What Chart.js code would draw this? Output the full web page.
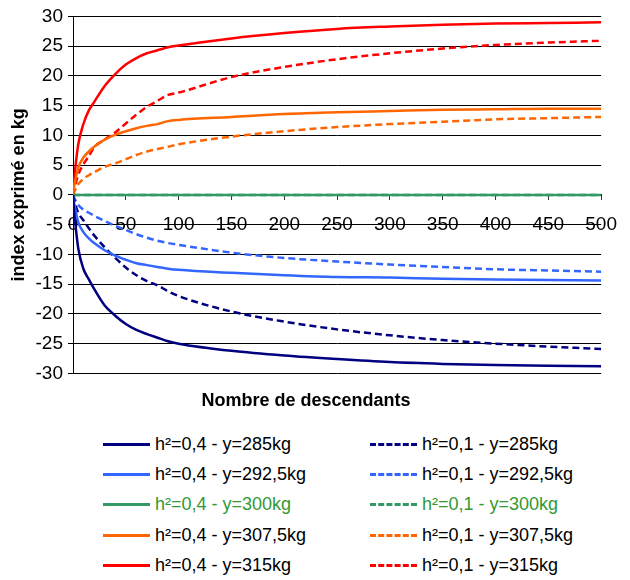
<!DOCTYPE html>
<html>
<head>
<meta charset="utf-8">
<script src="https://cdn.jsdelivr.net/npm/chart.js@4"></script>
<style>
  body { margin: 0; background: #fff; font-family: "Liberation Sans", Arial, sans-serif; }
  #wrap { position: relative; width: 630px; height: 580px; }
  #graf { position: absolute; left: 0; top: 0; }
  #leyenda { position: absolute; left: 103px; top: 429px; display: grid;
    grid-template-columns: 267px 240px; grid-template-rows: repeat(5, 30.3px);
    grid-auto-flow: column; font-size: 18px; color: #000; }
  .item { display: flex; align-items: center; white-space: nowrap; }
  .muestra { width: 47px; height: 0; margin-right: 5px; }
</style>
</head>
<body>
<div id="wrap">
  <canvas id="graf" width="630" height="420"></canvas>
  <div id="leyenda"></div>
</div>
<script>
// nombre de descendants
var descendants = [0, 1, 2, 5, 10, 15, 20, 30, 40, 50, 60, 70, 80, 90, 100, 150, 200, 250, 300, 350, 400, 450, 500];

// h2 = 0,4
var h04_285 = [0, -2.5, -4.5, -9, -12.5, -14.2, -15.8, -18.6, -20.3, -21.7, -22.7, -23.4, -24, -24.6, -25, -26.2, -27.0, -27.6, -28.1, -28.4, -28.6, -28.7, -28.8];
var h04_2925 = [0, -1.3, -2.3, -4.6, -6.3, -7.3, -8.1, -9.3, -10.2, -10.9, -11.5, -11.8, -12.1, -12.4, -12.6, -13.1, -13.5, -13.8, -13.9, -14.1, -14.2, -14.3, -14.4];
var h04_300 = [0, 0, 0, 0, 0, 0, 0, 0, 0, 0, 0, 0, 0, 0, 0, 0, 0, 0, 0, 0, 0, 0, 0];
var h04_3075 = [0, 1.3, 2.3, 4.6, 6.3, 7.3, 8.1, 9.3, 10.1, 10.7, 11.2, 11.6, 11.9, 12.4, 12.6, 13.1, 13.6, 13.9, 14.1, 14.3, 14.4, 14.5, 14.5];
var h04_315 = [0, 2.3, 4.2, 8.5, 12, 14.2, 15.6, 18.3, 20.3, 21.9, 23, 23.8, 24.3, 24.8, 25.1, 26.3, 27.2, 27.9, 28.3, 28.6, 28.8, 28.9, 29.0];

// h2 = 0,1
var h01_285 = [0, -0.8, -1.5, -3.0, -4.3, -5.6, -6.8, -8.8, -10.6, -12.2, -13.5, -14.5, -15.2, -16.2, -17, -19.6, -21.3, -22.6, -23.6, -24.4, -25.0, -25.5, -25.9];
var h01_2925 = [0, -0.4, -0.8, -1.7, -2.5, -3.0, -3.5, -4.4, -5.2, -5.9, -6.6, -7.2, -7.7, -8.1, -8.4, -9.7, -10.6, -11.2, -11.7, -12.1, -12.5, -12.7, -12.9];
var h01_300 = [0, 0, 0, 0, 0, 0, 0, 0, 0, 0, 0, 0, 0, 0, 0, 0, 0, 0, 0, 0, 0, 0, 0];
var h01_3075 = [0, 0.4, 0.8, 1.8, 2.7, 3.3, 3.8, 4.7, 5.3, 6.0, 6.7, 7.3, 7.7, 8.1, 8.5, 9.8, 10.7, 11.4, 11.9, 12.3, 12.7, 12.9, 13.1];
var h01_315 = [0, 0.8, 1.5, 3.4, 5.2, 6.5, 8, 9.3, 10.5, 12, 13.5, 14.8, 15.8, 16.8, 17.2, 19.8, 21.5, 22.8, 23.8, 24.6, 25.2, 25.6, 25.9];

var etiquetas = ['h²=0,4 - y=285kg', 'h²=0,4 - y=292,5kg', 'h²=0,4 - y=300kg', 'h²=0,4 - y=307,5kg', 'h²=0,4 - y=315kg',
                 'h²=0,1 - y=285kg', 'h²=0,1 - y=292,5kg', 'h²=0,1 - y=300kg', 'h²=0,1 - y=307,5kg', 'h²=0,1 - y=315kg'];
var series = [h04_285, h04_2925, h04_300, h04_3075, h04_315, h01_285, h01_2925, h01_300, h01_3075, h01_315];
var colores = ['#000080', '#3366ff', '#339966', '#ff6600', '#ff0000'];

function puntos(valores) {
    var res = [];
    for (var i = 0; i < descendants.length; i++) {
        res.push({ x: descendants[i], y: valores[i] });
    }
    return res;
}

var datasets = [];
for (var i = 0; i < series.length; i++) {
    var discontinua = i >= 5;
    datasets.push({
        label: etiquetas[i],
        data: puntos(series[i]),
        borderColor: colores[i % 5],
        borderWidth: 2.5,
        borderDash: discontinua ? [7, 4] : [],
        pointRadius: 0,
        cubicInterpolationMode: 'monotone',
        fill: false
    });
}

var ctx = document.getElementById('graf').getContext('2d');
var grafico = new Chart(ctx, {
    type: 'line',
    data: { datasets: datasets },
    options: {
        responsive: false,
        animation: false,
        layout: { padding: { top: 13, right: 18, left: 0, bottom: 0 } },
        plugins: {
            legend: { display: false },
            tooltip: { enabled: false },
            title: {
                display: true,
                position: 'bottom',
                text: 'Nombre de descendants',
                color: '#000',
                font: { family: 'Liberation Sans', size: 18, weight: 'bold' },
                padding: { top: 17, bottom: 8 }
            }
        },
        scales: {
            x: {
                type: 'linear',
                position: { y: 0 },
                min: 0,
                max: 500,
                ticks: { stepSize: 50, color: '#000', padding: 13, maxRotation: 0,
                         font: { family: 'Liberation Sans', size: 19 } },
                grid: { drawOnChartArea: false, drawTicks: true, tickLength: 5, color: '#333' },
                border: { display: true, color: '#000' }
            },
            y: {
                min: -30,
                max: 30,
                ticks: { stepSize: 5, color: '#000', padding: 5,
                         font: { family: 'Liberation Sans', size: 19 } },
                grid: { color: '#000', lineWidth: 1, drawTicks: true, tickLength: 5 },
                border: { display: true, color: '#000' },
                title: {
                    display: true,
                    text: 'index exprimé en kg',
                    color: '#000',
                    font: { family: 'Liberation Sans', size: 18, weight: 'bold' },
                    padding: { top: 8, bottom: 0 }
                },
                afterFit: function (scale) { scale.width = 73; }
            }
        }
    }
});

// leyenda en dos columnas
var leyenda = document.getElementById('leyenda');
grafico.data.datasets.forEach(function (ds, i) {
    var item = document.createElement('div');
    item.className = 'item';
    var muestra = document.createElement('span');
    muestra.className = 'muestra';
    muestra.style.borderTop = '3px ' + (ds.borderDash.length ? 'dashed ' : 'solid ') + ds.borderColor;
    var texto = document.createElement('span');
    texto.textContent = ds.label;
    if (i % 5 === 2) texto.style.color = '#339933';
    item.appendChild(muestra);
    item.appendChild(texto);
    leyenda.appendChild(item);
});
</script>
</body>
</html>
